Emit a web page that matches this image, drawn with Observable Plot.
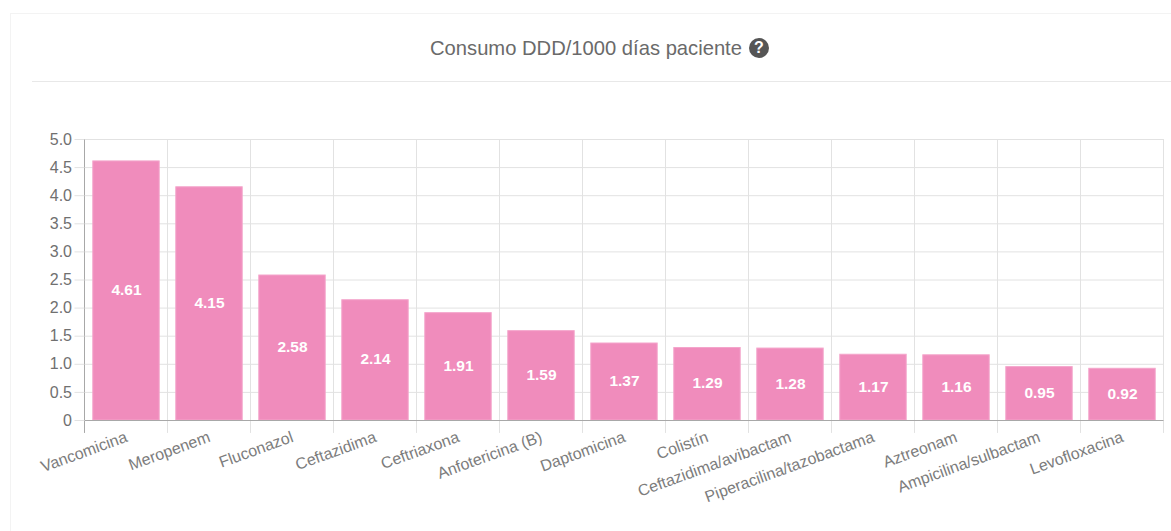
<!DOCTYPE html>
<html lang="es">
<head>
<meta charset="utf-8">
<script src="https://cdn.jsdelivr.net/npm/d3@7"></script>
<script src="https://cdn.jsdelivr.net/npm/@observablehq/plot@0.6"></script>
<style>
html,body{margin:0;padding:0;background:#fff;width:1171px;height:531px;overflow:hidden;font-family:"Liberation Sans",Arial,sans-serif}
#card{position:absolute;left:10px;top:13px;width:1200px;height:560px;border:1px solid #f3f3f3;box-sizing:border-box}
#head{position:absolute;left:32px;top:0;width:1139px;height:81px;border-bottom:1px solid #e8e8e8}
#title{position:absolute;left:398px;top:37px;font-size:20.2px;line-height:22px;color:#6a6a6a;white-space:nowrap}
#help{position:absolute;left:717px;top:38px;width:20px;height:20px;border-radius:50%;background:#555;color:#fff;font-size:16px;font-weight:bold;line-height:20px;text-align:center}
#chart{position:absolute;left:0;top:82px}
</style>
</head>
<body>
<div id="card"></div>
<div id="head"><div id="title">Consumo DDD/1000 días paciente</div><div id="help">?</div></div>
<div id="chart"></div>
<script>
const categories = ["Vancomicina","Meropenem","Fluconazol","Ceftazidima","Ceftriaxona","Anfotericina (B)","Daptomicina","Colistín","Ceftazidima/avibactam","Piperacilina/tazobactama","Aztreonam","Ampicilina/sulbactam","Levofloxacina"];
const values = [4.61,4.15,2.58,2.14,1.91,1.59,1.37,1.29,1.28,1.17,1.16,0.95,0.92];
const yTicks = [0,0.5,1,1.5,2,2.5,3,3.5,4,4.5,5];
const rows = categories.map((name,i)=>({name,value:values[i]}));
const gridColor = "#e2e2e2", axisColor = "#a8a8a8", textColor = "#707070";
const chart = Plot.plot({
  width:1171,height:449,marginLeft:84.5,marginRight:7.5,marginTop:57,marginBottom:111,
  style:{background:"transparent",fontFamily:'"Liberation Sans",Arial,sans-serif'},
  x:{domain:categories,paddingInner:0.2,paddingOuter:0.1,round:false,label:null},
  y:{domain:[0,5],label:null},
  marks:[
    Plot.ruleY(yTicks.filter(d=>d>0),{y:d=>d,stroke:gridColor}),
    Plot.ruleX(categories.slice(1),{x:d=>d,y1:-0.23,y2:5,dx:-42,stroke:gridColor}),
    Plot.ruleX(categories.slice(-1),{x:d=>d,y1:-0.23,y2:5,dx:41,stroke:gridColor}),
    Plot.barY(rows,{x:"name",y:"value",fill:"#f08cbc",stroke:"#f4a5cb",strokeWidth:1}),
    Plot.ruleY([0],{stroke:axisColor}),
    Plot.ruleX(categories.slice(0,1),{x:d=>d,y1:-0.23,y2:5,dx:-42,stroke:axisColor}),
    Plot.axisY({ticks:yTicks,tickFormat:d=>d===0?"0":d.toFixed(1),tickSize:10,tickPadding:3,stroke:gridColor,fill:textColor,fontSize:16,label:null}),
    Plot.axisX({domain:categories,tickSize:0,tickRotate:-20,tickPadding:16,fill:"#7c7c7c",fontSize:16,label:null}),
    Plot.text(rows,{x:"name",y:d=>d.value/2,dy:-1,text:d=>d.value.toFixed(2),fill:"#fff",fontWeight:"bold",fontSize:15.5})
  ]
});
document.getElementById("chart").appendChild(chart);
</script>
</body>
</html>
